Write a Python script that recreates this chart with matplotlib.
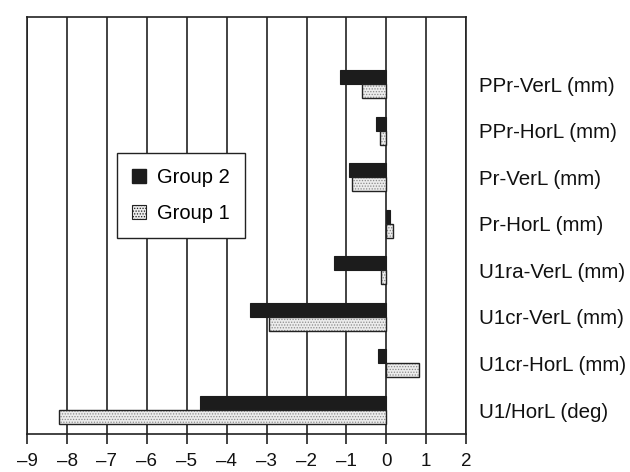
import numpy as np
import matplotlib
matplotlib.use("Agg")
import matplotlib.pyplot as plt
from matplotlib.patches import Patch

plt.rcParams["font.family"] = ["Liberation Sans", "DejaVu Sans"]
plt.rcParams["hatch.color"] = "#8a8a8a"
plt.rcParams["hatch.linewidth"] = 0.6

categories = ["PPr-VerL (mm)", "PPr-HorL (mm)", "Pr-VerL (mm)", "Pr-HorL (mm)",
              "U1ra-VerL (mm)", "U1cr-VerL (mm)", "U1cr-HorL (mm)", "U1/HorL (deg)"]
group2 = [-1.15, -0.25, -0.93, 0.10, -1.32, -3.42, -0.21, -4.68]
group1 = [-0.61, -0.17, -0.86, 0.17, -0.13, -2.95, 0.82, -8.19]
xticks = list(range(-9, 3))

dark = "#222222"
pos = np.arange(len(categories))[::-1]
h = 0.3

fig = plt.figure(figsize=(6.3, 4.72), dpi=100)
ax = fig.add_axes([0.043, 0.0805, 0.697, 0.8835])

ax.barh(pos + h / 2, group2, height=h, color="#1c1c1c", edgecolor="#1c1c1c", linewidth=0.8, zorder=3)
ax.barh(pos - h / 2, group1, height=h, color="#ececec", hatch="......", edgecolor="#8a8a8a", linewidth=0, zorder=3)
ax.barh(pos - h / 2, group1, height=h, fill=False, edgecolor=dark, linewidth=1.0, zorder=4)

ax.set_xlim(-9, 2)
ax.set_ylim(-0.515, 8.44)
ax.set_xticks(xticks)
ax.set_xticklabels(["\u2013" + str(-t) if t < 0 else str(t) for t in xticks])
ax.xaxis.grid(True, color=dark, linewidth=1.2, zorder=1)
ax.set_axisbelow(True)

ax.set_yticks(pos)
ax.set_yticklabels(categories)
ax.yaxis.tick_right()
ax.tick_params(axis="y", length=0, pad=9, labelsize=14.8, colors="#111111")
ax.tick_params(axis="x", direction="out", length=7.5, width=1.2, pad=6, labelsize=13.5,
               color=dark, labelcolor="#111111")

for s in ax.spines.values():
    s.set_color(dark)
    s.set_linewidth(1.2)

handles = [Patch(facecolor="#1c1c1c", edgecolor="#1c1c1c"),
           Patch(facecolor="#ececec", edgecolor=dark, hatch="......", linewidth=0.8)]
leg = ax.legend(handles, ["Group 2", "Group 1"], loc="upper left",
                bbox_to_anchor=(0.205, 0.674), fontsize=14.5, frameon=True,
                fancybox=False, framealpha=1, edgecolor=dark, handlelength=0.7,
                handleheight=0.7, handletextpad=0.55, labelspacing=0.85,
                borderpad=0.75, borderaxespad=0)
leg.get_frame().set_linewidth(1.0)

fig.savefig("out.png", dpi=100)
